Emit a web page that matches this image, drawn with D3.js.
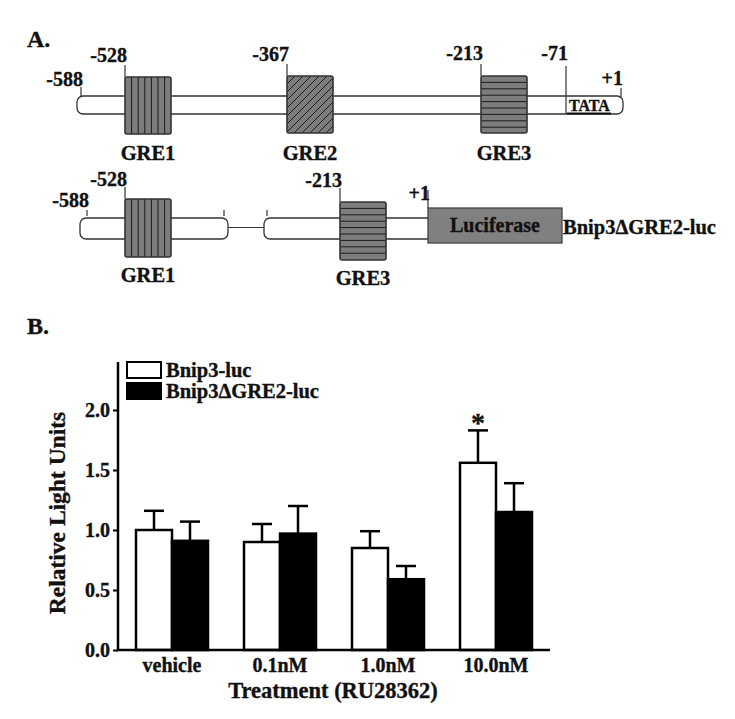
<!DOCTYPE html>
<html><head><meta charset="utf-8">
<script src="https://cdn.jsdelivr.net/npm/d3@7"></script>
<style>
body{margin:0;background:#fff}
svg text{font-family:"Liberation Serif","Times New Roman",serif;font-weight:bold;fill:#111;stroke:#111;stroke-width:0.35px}
</style>
</head><body>
<svg id="c" width="735" height="719"></svg>
<script>
// ---------- Panel B data ----------
const categories = ["vehicle", "0.1nM", "1.0nM", "10.0nM"];
const seriesNames = ["Bnip3-luc", "Bnip3\u0394GRE2-luc"];
const bnip3Luc = [1.00, 0.90, 0.85, 1.56];
const bnip3LucErr = [0.16, 0.15, 0.14, 0.27];
const deltaGre2Luc = [0.91, 0.97, 0.59, 1.15];
const deltaGre2LucErr = [0.16, 0.23, 0.11, 0.24];
const significant = [false, false, false, true];
const yTicks = [0.0, 0.5, 1.0, 1.5, 2.0];
const yTickLabels = ["0.0", "0.5", "1.0", "1.5", "2.0"];
const xTitle = "Treatment (RU28362)";
const yTitle = "Relative Light Units";

// ---------- Panel A data (promoter schematic) ----------
const topSites = [-588, -528, -367, -213, -71, 1];
const topSiteLabels = ["-588", "-528", "-367", "-213", "-71", "+1"];
const topGREs = [{name: "GRE1", pos: -528, hatch: "v"}, {name: "GRE2", pos: -367, hatch: "d"}, {name: "GRE3", pos: -213, hatch: "h"}];
const botSites = [-588, -528, -213, 1];
const botSiteLabels = ["-588", "-528", "-213", "+1"];
const botGREs = [{name: "GRE1", pos: -528, hatch: "v"}, {name: "GRE3", pos: -213, hatch: "h"}];
const constructName = "Bnip3\u0394GRE2-luc";
const reporterName = "Luciferase";

const svg = d3.select("#c");

// schematic (not-to-scale) position scales
const topX = d3.scaleLinear().domain(topSites).range([81, 125, 287, 481, 566, 621]);
const botX = d3.scaleLinear().domain(botSites).range([87, 125, 340, 428]);

const boxW = 46, gray = "#7d7d7d", outline = "#333";

function greBox(g, x, y0, y1, hatch, id) {
  svg.append("defs").append("clipPath").attr("id", id)
    .append("rect").attr("x", x).attr("y", y0).attr("width", boxW).attr("height", y1 - y0);
  const gg = g.append("g");
  gg.append("rect").attr("x", x).attr("y", y0).attr("width", boxW).attr("height", y1 - y0)
    .attr("rx", 2).attr("fill", gray);
  const lines = gg.append("g").attr("clip-path", `url(#${id})`).attr("stroke", "#1a1a1a").attr("stroke-width", 1);
  if (hatch === "v") {
    d3.range(x + 6.6, x + boxW - 2, 6.6).forEach(v =>
      lines.append("line").attr("x1", v).attr("x2", v).attr("y1", y0).attr("y2", y1));
  } else if (hatch === "h") {
    d3.range(y0 + 6.4, y1 - 2, 6.4).forEach(v =>
      lines.append("line").attr("x1", x).attr("x2", x + boxW).attr("y1", v).attr("y2", v));
  } else {
    const h = y1 - y0;
    d3.range(x - h, x + boxW + 4, 8).forEach(v =>
      lines.append("line").attr("x1", v).attr("y1", y1).attr("x2", v + h).attr("y2", y0));
  }
  gg.append("rect").attr("x", x).attr("y", y0).attr("width", boxW).attr("height", y1 - y0)
    .attr("rx", 2).attr("fill", "none").attr("stroke", outline).attr("stroke-width", 1.6);
}

// ---------- Panel A ----------
const A = svg.append("g");
A.append("text").attr("x", 27).attr("y", 47).attr("font-size", 24).text("A.");

// top promoter bar
A.append("rect").attr("x", 77).attr("y", 96).attr("width", 546).attr("height", 18).attr("rx", 6)
  .attr("fill", "#fff").attr("stroke", outline).attr("stroke-width", 1.3);
A.append("line").attr("x1", 567).attr("x2", 611).attr("y1", 113.5).attr("y2", 113.5).attr("stroke", "#111").attr("stroke-width", 2);
A.append("text").attr("x", 569).attr("y", 111).attr("font-size", 16).text("TATA");

// site ticks + labels (top)
const topTick = {"-588": [87, 96, 86], "-528": [65, 77, 62], "-367": [64, 76, 61], "-213": [64, 76, 60], "-71": [66, 114, 60], "1": [88, 97, 85]};
topSites.forEach((s, i) => {
  const x = topX(s), t = topTick[String(s)];
  A.append("line").attr("x1", x).attr("x2", x).attr("y1", t[0]).attr("y2", t[1]).attr("stroke", outline).attr("stroke-width", 1.2);
  A.append("text").attr("x", x + 2).attr("y", t[2]).attr("text-anchor", "end").attr("font-size", 20).text(topSiteLabels[i]);
});
topGREs.forEach((d, i) => {
  const x = topX(d.pos);
  greBox(A, x, 77 - (i > 0 ? 1 : 0), 134 - (i > 0 ? 1 : 0), d.hatch, "tg" + i);
  A.append("text").attr("x", x + boxW / 2).attr("y", 160).attr("text-anchor", "middle").attr("font-size", 20.5).text(d.name);
});

// bottom construct
A.append("rect").attr("x", 80).attr("y", 218).attr("width", 148).attr("height", 21).attr("rx", 6)
  .attr("fill", "#fff").attr("stroke", outline).attr("stroke-width", 1.3);
A.append("line").attr("x1", 228).attr("x2", 264).attr("y1", 227.5).attr("y2", 227.5).attr("stroke", outline).attr("stroke-width", 1.2);
A.append("rect").attr("x", 264).attr("y", 218).attr("width", 180).attr("height", 21).attr("rx", 6)
  .attr("fill", "#fff").attr("stroke", outline).attr("stroke-width", 1.3);
[224, 267].forEach(x => A.append("line").attr("x1", x).attr("x2", x).attr("y1", 210).attr("y2", 216).attr("stroke", outline).attr("stroke-width", 1.2));

// luciferase
A.append("rect").attr("x", botX(1)).attr("y", 208).attr("width", 134).attr("height", 35)
  .attr("fill", "#808080").attr("stroke", "#444").attr("stroke-width", 1.3);
A.append("text").attr("x", botX(1) + 67).attr("y", 232).attr("text-anchor", "middle").attr("font-size", 20).text(reporterName);
A.append("text").attr("x", 563).attr("y", 234).attr("font-size", 20.5).text(constructName);

const botTick = {"-588": [210, 216, 207], "-528": [187, 199, 186], "-213": [188, 202, 187], "1": [190, 208, 200]};
botSites.forEach((s, i) => {
  const x = botX(s), t = botTick[String(s)];
  A.append("line").attr("x1", x).attr("x2", x).attr("y1", t[0]).attr("y2", t[1]).attr("stroke", outline).attr("stroke-width", 1.2);
  A.append("text").attr("x", x + 2).attr("y", t[2]).attr("text-anchor", "end").attr("font-size", 20).text(botSiteLabels[i]);
});
botGREs.forEach((d, i) => {
  const x = botX(d.pos);
  const y0 = i === 0 ? 199 : 202;
  greBox(A, x, y0, y0 + 58, d.hatch, "bg" + i);
  A.append("text").attr("x", x + boxW / 2).attr("y", i === 0 ? 282 : 285).attr("text-anchor", "middle").attr("font-size", 20.5).text(d.name);
});

// ---------- Panel B ----------
const B = svg.append("g");
B.append("text").attr("x", 27).attr("y", 334).attr("font-size", 24).text("B.");

const x0 = d3.scaleBand().domain(categories).range([118, 550]).paddingInner(1 / 3).paddingOuter(1 / 6);
const x1 = d3.scaleBand().domain(seriesNames).range([0, x0.bandwidth()]);
const y = d3.scaleLinear().domain([0, 2.4]).range([650, 362]);

const rows = categories.map((c, i) => ({
  cat: c, sig: significant[i],
  vals: [
    {s: seriesNames[0], v: bnip3Luc[i], e: bnip3LucErr[i], fill: "#fff"},
    {s: seriesNames[1], v: deltaGre2Luc[i], e: deltaGre2LucErr[i], fill: "#000"}
  ]
}));

const grp = B.selectAll("g.grp").data(rows).join("g").attr("class", "grp")
  .attr("transform", d => `translate(${x0(d.cat)},0)`);

// error bars (upper only)
grp.selectAll("g.err").data(d => d.vals).join("g").attr("class", "err").each(function (d) {
  const g = d3.select(this), cx = x1(d.s) + x1.bandwidth() / 2;
  g.append("line").attr("x1", cx).attr("x2", cx).attr("y1", y(d.v)).attr("y2", y(d.v + d.e)).attr("stroke", "#000").attr("stroke-width", 2.5);
  g.append("line").attr("x1", cx - 10).attr("x2", cx + 10).attr("y1", y(d.v + d.e)).attr("y2", y(d.v + d.e)).attr("stroke", "#000").attr("stroke-width", 2.5);
});
grp.selectAll("rect").data(d => d.vals).join("rect")
  .attr("x", d => x1(d.s)).attr("width", x1.bandwidth())
  .attr("y", d => y(d.v)).attr("height", d => y(0) - y(d.v))
  .attr("fill", d => d.fill).attr("stroke", "#000").attr("stroke-width", 2.5);

// significance asterisk
grp.filter(d => d.sig).append("text")
  .attr("x", d => x1(seriesNames[0]) + x1.bandwidth() / 2)
  .attr("y", d => y(d.vals[0].v + d.vals[0].e) + 2)
  .attr("text-anchor", "middle").attr("font-size", 28).attr("font-weight", "normal").text("*");

// axes
const yAxis = d3.axisLeft(y).tickValues(yTicks).tickFormat((d, i) => yTickLabels[i]).tickSize(5).tickPadding(3);
const ya = B.append("g").attr("transform", "translate(118,0)").call(yAxis);
ya.select(".domain").attr("stroke-width", 2.5).attr("d", `M0,${y(2.4)}V${y(0)}`);
ya.selectAll(".tick line").attr("stroke-width", 2);
ya.selectAll(".tick text").attr("font-size", 20).attr("dy", "0.33em").attr("font-family", null).attr("fill", "#111");

const xAxis = d3.axisBottom(x0).tickSize(0).tickPadding(8);
const xa = B.append("g").attr("transform", `translate(0,${y(0)})`).call(xAxis);
xa.select(".domain").attr("stroke-width", 2.5).attr("d", `M116.75,0H550`);
xa.selectAll(".tick text").attr("font-size", 20).attr("dy", "0.71em").attr("font-family", null).attr("fill", "#111").attr("y", 8);

B.append("text").attr("x", 333).attr("y", 698).attr("text-anchor", "middle").attr("font-size", 22.5).text(xTitle);
B.append("text").attr("transform", `translate(65,513) rotate(-90)`).attr("text-anchor", "middle").attr("font-size", 23.5).text(yTitle);

// legend
const leg = B.append("g");
seriesNames.forEach((s, i) => {
  leg.append("rect").attr("x", 127).attr("y", 362 + i * 21).attr("width", 34).attr("height", 16)
    .attr("fill", i === 0 ? "#fff" : "#000").attr("stroke", "#000").attr("stroke-width", 2);
  leg.append("text").attr("x", 166).attr("y", 377 + i * 21).attr("font-size", 20.5).text(s);
});
</script>
</body></html>
